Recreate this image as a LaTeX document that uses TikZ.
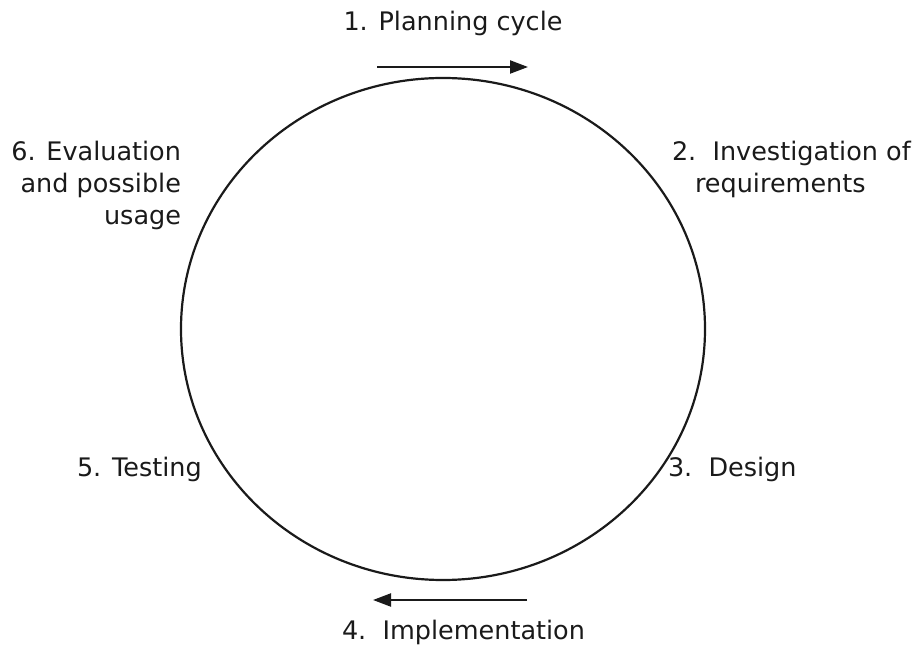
\documentclass[tikz,border=0pt]{standalone}
\usepackage{fontspec}
\setmainfont{DejaVu Sans}
\usetikzlibrary{arrows.meta}

\begin{document}
\begin{tikzpicture}[x=1pt, y=1pt,
  every node/.style={inner sep=0pt, outer sep=0pt, text=ink, font=\fontsize{25.5}{32}\selectfont},
  arr/.style={draw=ink, line width=2.2pt, -{Triangle[length=18pt, width=13pt]}}]
\definecolor{ink}{HTML}{1A1A1A}
\useasboundingbox (0,0) rectangle (923,648);

\draw[ink, line width=2.2pt] (443,319) ellipse [x radius=262, y radius=251];

\coordinate (topA) at (377,581);
\coordinate (topB) at (528,581);
\coordinate (botA) at (527,48);
\coordinate (botB) at (373,48);
\draw[arr] (topA) -- (topB);
\draw[arr] (botA) -- (botB);

\node[anchor=base] (plan) at (453,617) {1. Planning cycle};
\node[anchor=north west, align=left] (invest) at (672,507) {2.\ \ Investigation of\\\hspace*{23pt}requirements};
\node[anchor=base west] (design) at (668,171) {3.\ \ Design};
\node[anchor=base west] (impl) at (342,9) {4.\ \ Implementation};
\node[anchor=base west] (test) at (77,171) {5. Testing};
\node[anchor=north east, align=right] (eval) at (181,507) {6. Evaluation\\and possible\\usage};
\end{tikzpicture}
\end{document}
